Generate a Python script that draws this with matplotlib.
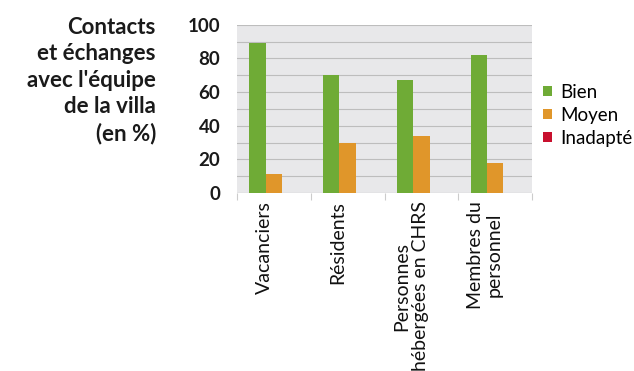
import matplotlib
matplotlib.use("Agg")
import matplotlib.pyplot as plt
import matplotlib.transforms as mtransforms
import numpy as np

categories = ["Vacanciers", "Résidents", "Personnes\nhébergées en CHRS", "Membres du\npersonnel"]
series_names = ["Bien", "Moyen", "Inadapté"]
bien = [89, 70, 67, 82]
moyen = [11, 30, 34, 18]
inadapte = [0, 0, 0, 0]
yticks = [0, 20, 40, 60, 80, 100]
title = "Contacts\net échanges\navec l'équipe\nde la villa\n(en %)"

colors = ["#6fab36", "#e0962a", "#c8102e"]

plt.rcParams['font.family'] = ['Lato', 'DejaVu Sans']

fig = plt.figure(figsize=(6.34, 3.71), dpi=100)
ax = fig.add_axes([0.374, 0.480, 0.465, 0.453])
ax.set_facecolor("#e8e8ea")

x = np.arange(len(categories))
w = 0.222
for i, (vals, name) in enumerate(zip([bien, moyen, inadapte], series_names)):
    ax.bar(x + (i - 1) * w, vals, width=w, color=colors[i], label=name, zorder=3)

ax.set_xlim(-0.5, len(categories) - 0.5)
ax.set_ylim(0, 100)
ax.set_yticks(yticks)
ax.set_yticklabels([str(v) for v in yticks], fontsize=13.5, fontweight='bold', color="#1a1a1a")
ax.set_yticks(np.arange(0, 101, 10), minor=True)
ax.grid(axis='y', which='both', color="#bdbdbd", linewidth=0.8, zorder=1)
ax.tick_params(axis='y', which='both', length=0, pad=12)

ax.set_xticks(x)
ax.set_xticklabels(categories, rotation=90, fontsize=14, color="#111111", va='top', ha='center', linespacing=1.1)
ax.tick_params(axis='x', which='major', length=0, pad=6)
offset = mtransforms.ScaledTranslation(-10 / 100, 0, fig.dpi_scale_trans)
for lbl in ax.get_xticklabels():
    lbl.set_transform(lbl.get_transform() + offset)
ax.set_xticks(np.arange(-0.5, len(categories)), minor=True)
ax.tick_params(axis='x', which='minor', length=5, color="#cccccc", width=0.8)

for s in ax.spines.values():
    s.set_visible(False)
ax.axhline(0, color="#cccccc", linewidth=0.8, zorder=2)

fig.text(0.246, 0.955, title, ha='right', va='top', fontsize=16, fontweight='bold',
         color="#1a1a1a", linespacing=1.32)

leg = ax.legend(loc='center left', bbox_to_anchor=(1.0, 0.46), frameon=False, fontsize=13.5,
                handlelength=0.45, handleheight=0.45, handletextpad=0.45, labelspacing=0.32,
                borderaxespad=0.2)

fig.savefig("out.png", dpi=100, facecolor="white")
